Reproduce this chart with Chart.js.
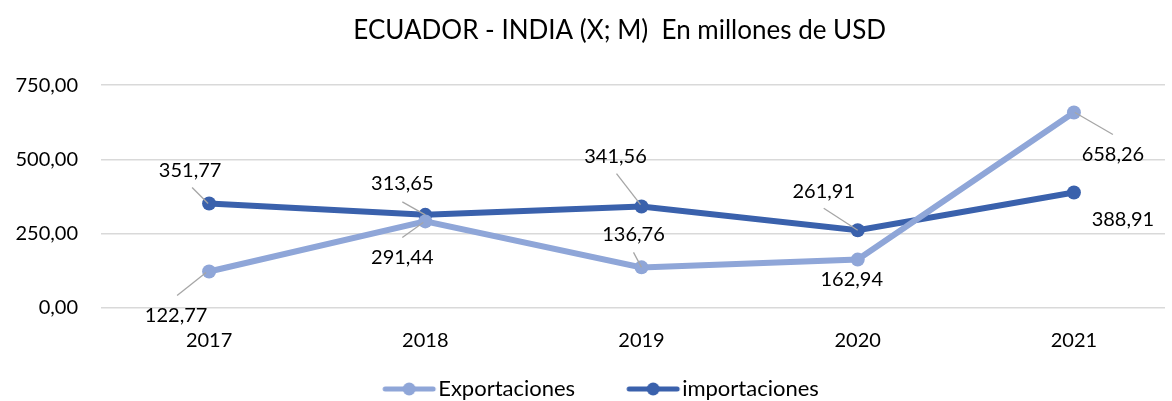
<!DOCTYPE html>
<html>
<head>
<meta charset="utf-8">
<script src="https://cdn.jsdelivr.net/npm/chart.js@4.4.1/dist/chart.umd.min.js"></script>
<style>
  html, body { margin: 0; padding: 0; background: #ffffff; overflow: hidden; }
  #wrap { width: 1172px; height: 401px; position: relative; }
</style>
</head>
<body>
<div id="wrap"><canvas id="c" width="1172" height="401"></canvas></div>
<script>
// ---- data ----
const years = [2017, 2018, 2019, 2020, 2021];
const exportaciones = [122.77, 291.44, 136.76, 162.94, 658.26];
const importaciones = [351.77, 313.65, 341.56, 261.91, 388.91];
const yTickValues = [0, 250, 500, 750];
const seriesNames = ['Exportaciones', 'importaciones'];
const titleText = 'ECUADOR - INDIA (X; M)  En millones de USD';

// ---- styles ----
const colExp = '#8FA6D8';
const colImp = '#3A61AC';
const FONT = 'Lato, "Noto Sans", sans-serif';

// label placement relative to each point: [dx, dy, leader(sx, sy, ex, ey) or null]
const labelPlacement = [
  [ [-33, 44, [-32, 24, -3, 1]], [-23, 36, [-23, 16, -2, 1]], [-8, -33, [-8, -15, 0, 0]], [-6, 20, null], [39, 42, [1, 0, 39, 22]] ],
  [ [-19, -33, [-17, -16, -1, 0]], [-23, -31, [-23, -13, 0, 0]], [-26, -50, [-25, -33, -1, -2]], [-34, -39, [-34, -22, 0, 0]], [49, 27, null] ]
];

const fmt = v => v.toFixed(2).replace('.', ',');

// legend marker: line with a dot, drawn at the right end of a wider transparent image
const LEG_BOX = 74, LEG_EXT = 10;
function legendMarker(color) {
  const c = document.createElement('canvas');
  c.width = LEG_BOX + 2 * LEG_EXT; c.height = 16;
  const g = c.getContext('2d');
  const x0 = c.width - 55, x1 = c.width - 1;
  g.strokeStyle = color; g.lineWidth = 5; g.lineCap = 'round';
  g.beginPath(); g.moveTo(x0 + 3, 8); g.lineTo(x1 - 3, 8); g.stroke();
  g.fillStyle = color;
  g.beginPath(); g.arc((x0 + x1) / 2, 8, 6.5, 0, Math.PI * 2); g.fill();
  return c;
}
const markers = [legendMarker(colExp), legendMarker(colImp)];

const dataLabels = {
  id: 'dataLabels',
  afterDatasetsDraw(chart) {
    const ctx = chart.ctx;
    ctx.save();
    ctx.font = '20px ' + FONT;
    ctx.textAlign = 'center';
    ctx.textBaseline = 'middle';
    chart.data.datasets.forEach((ds, di) => {
      const meta = chart.getDatasetMeta(di);
      meta.data.forEach((pt, i) => {
        const p = labelPlacement[di][i];
        const x = pt.x, y = pt.y;
        if (p[2]) {
          const L = p[2];
          ctx.strokeStyle = '#A6A6A6';
          ctx.lineWidth = 1.3;
          ctx.beginPath();
          ctx.moveTo(x + L[0], y + L[1]);
          ctx.lineTo(x + L[2], y + L[3]);
          ctx.stroke();
        }
        ctx.fillStyle = '#000000';
        ctx.fillText(fmt(ds.data[i].y), x + p[0], y + p[1]);
      });
    });
    ctx.restore();
  }
};

const toPoints = arr => years.map((yr, i) => ({ x: yr, y: arr[i] }));

new Chart(document.getElementById('c'), {
  type: 'line',
  data: {
    datasets: [
      {
        label: seriesNames[0],
        data: toPoints(exportaciones),
        borderColor: colExp,
        backgroundColor: colExp,
        borderWidth: 6,
        pointStyle: 'circle',
        pointRadius: 7,
        pointBackgroundColor: colExp,
        pointBorderWidth: 0,
        tension: 0
      },
      {
        label: seriesNames[1],
        data: toPoints(importaciones),
        borderColor: colImp,
        backgroundColor: colImp,
        borderWidth: 6,
        pointStyle: 'circle',
        pointRadius: 7,
        pointBackgroundColor: colImp,
        pointBorderWidth: 0,
        tension: 0
      }
    ]
  },
  options: {
    responsive: false,
    animation: false,
    events: [],
    layout: { padding: { left: 0, right: 0, top: 0, bottom: -9 } },
    scales: {
      x: {
        type: 'linear',
        min: 2016.5,
        max: 2016.5 + 1063 / 216,
        grid: { display: false, drawTicks: false },
        border: { display: false },
        afterBuildTicks: s => { s.ticks = years.map(v => ({ value: v })); },
        afterFit: s => { s.height = 48; },
        ticks: {
          padding: 21,
          color: '#000000',
          font: { family: FONT, size: 20 },
          callback: v => String(v),
          maxRotation: 0,
          autoSkip: false
        }
      },
      y: {
        min: 0,
        max: 750,
        afterBuildTicks: s => { s.ticks = yTickValues.map(v => ({ value: v })); },
        afterFit: s => { s.width = 101; },
        grid: { color: '#D9D9D9', lineWidth: 1.5, drawTicks: false },
        border: { display: false },
        ticks: {
          padding: 23,
          color: '#000000',
          font: { family: FONT, size: 20 },
          callback: v => fmt(v)
        }
      }
    },
    plugins: {
      title: {
        display: true,
        fullSize: false,
        text: titleText + '    ',
        color: '#000000',
        font: { family: FONT, size: 26, weight: 'normal', lineHeight: 1.2 },
        padding: { top: 15, bottom: 39 }
      },
      legend: {
        display: true,
        position: 'bottom',
        labels: {
          usePointStyle: true,
          pointStyleWidth: LEG_BOX,
          padding: 22,
          color: '#000000',
          font: { family: FONT, size: 22 },
          generateLabels: chart => chart.data.datasets.map((ds, i) => ({
            text: ds.label,
            pointStyle: markers[i],
            fillStyle: ds.borderColor,
            strokeStyle: ds.borderColor,
            lineWidth: 0,
            hidden: false,
            datasetIndex: i
          }))
        }
      },
      tooltip: { enabled: false }
    }
  },
  plugins: [dataLabels]
});
</script>
</body>
</html>
